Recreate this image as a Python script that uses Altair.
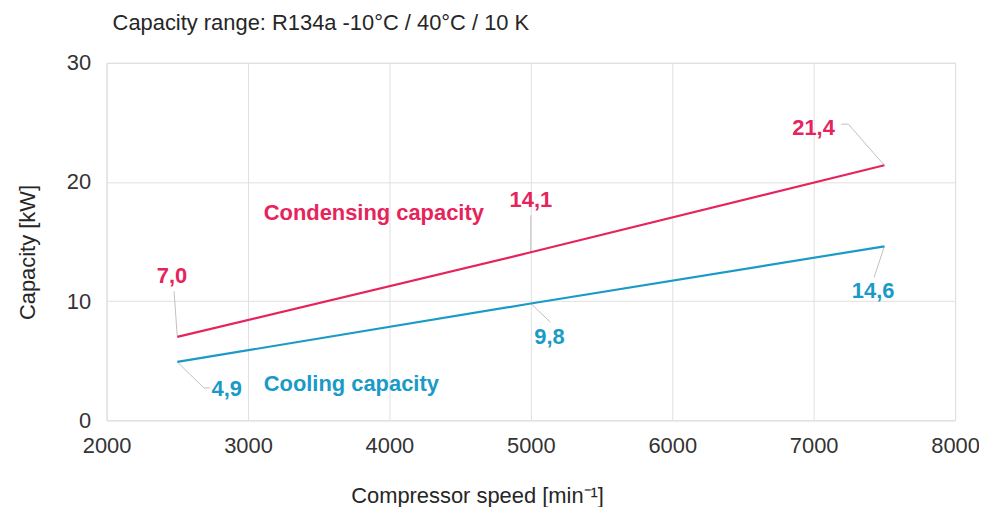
import altair as alt
import pandas as pd

# ---- data ----
speeds = [2500, 5000, 7500]
condensing = [7.0, 14.1, 21.4]
cooling = [4.9, 9.8, 14.6]
series_names = ["Condensing capacity", "Cooling capacity"]
colors = ["#E6245C", "#1A9AC6"]
x_ticks = [2000, 3000, 4000, 5000, 6000, 7000, 8000]
y_ticks = [0, 10, 20, 30]

# ---- annotation placement (data units), kept apart from the values ----
# label centre for each point (condensing first, then cooling)
cond_label_pos = [(2463, 12.07), (5000, 18.5), (6999, 24.5)]
cool_label_pos = [(2850, 2.63), (5132, 6.98), (7420, 10.82)]
# leader bend points from each point toward its label
cond_leader = [[(2477, 10.82)], [(5000, 17.2)], [(7245, 24.85), (7195, 24.85)]]
cool_leader = [[(2688, 2.72), (2730, 2.72)], [(5139, 8.23)], [(7427, 11.99)]]
# series name anchors (left, baseline)
name_pos = [(3111, 16.83), (3111, 2.47)]

FONT = "Liberation Sans"
FS = 22

rows = []
for s, vals in zip(series_names, [condensing, cooling]):
    for x, v in zip(speeds, vals):
        rows.append({"series": s, "speed": x, "cap": v})
lines_df = pd.DataFrame(rows)

lab_rows = []
lead_rows = []
for s, vals, lpos, lead in zip(series_names, [condensing, cooling],
                               [cond_label_pos, cool_label_pos],
                               [cond_leader, cool_leader]):
    for i, (x, v) in enumerate(zip(speeds, vals)):
        lab_rows.append({"series": s, "lx": lpos[i][0], "ly": lpos[i][1],
                         "txt": f"{v:.1f}".replace(".", ",")})
        pid = f"{s}-{i}"
        lead_rows.append({"id": pid, "o": 0, "x": x, "y": v})
        for k, (bx, by) in enumerate(lead[i]):
            lead_rows.append({"id": pid, "o": k + 1, "x": bx, "y": by})
labels_df = pd.DataFrame(lab_rows)
lead_df = pd.DataFrame(lead_rows)
names_df = pd.DataFrame({"series": series_names,
                         "nx": [p[0] for p in name_pos],
                         "ny": [p[1] for p in name_pos]})

xs = alt.Scale(domain=[2000, 8000], nice=False)
ys = alt.Scale(domain=[0, 30], nice=False)
cs = alt.Scale(domain=series_names, range=colors)

x_axis = alt.Axis(values=x_ticks, format="d", labelFlush=False,
                  title="Compressor speed [min⁻¹]",
                  labelPadding=15, titleX=372, titleY=83,
                  titleBaseline="alphabetic", titleAnchor="middle")
y_axis = alt.Axis(values=y_ticks, format="d", labelFlush=False,
                  title="Capacity [kW]", labelPadding=16,
                  titleX=-72, titleY=190, titleAngle=270,
                  titleBaseline="alphabetic", titleAnchor="middle")

leaders = alt.Chart(lead_df).mark_line(color="#BFBFBF", strokeWidth=1).encode(
    x=alt.X("x:Q", scale=xs, axis=x_axis),
    y=alt.Y("y:Q", scale=ys, axis=y_axis),
    detail="id:N",
    order="o:Q",
)

lines = alt.Chart(lines_df).mark_line(strokeWidth=2.2).encode(
    x=alt.X("speed:Q", scale=xs),
    y=alt.Y("cap:Q", scale=ys),
    color=alt.Color("series:N", scale=cs, legend=None),
)

value_labels = alt.Chart(labels_df).mark_text(
    font=FONT, fontSize=FS, fontWeight="bold", align="center", baseline="middle"
).encode(
    x=alt.X("lx:Q", scale=xs),
    y=alt.Y("ly:Q", scale=ys),
    text="txt:N",
    color=alt.Color("series:N", scale=cs, legend=None),
)

name_labels = alt.Chart(names_df).mark_text(
    font=FONT, fontSize=FS, fontWeight="bold", align="left", baseline="alphabetic"
).encode(
    x=alt.X("nx:Q", scale=xs),
    y=alt.Y("ny:Q", scale=ys),
    text="series:N",
    color=alt.Color("series:N", scale=cs, legend=None),
)

chart = alt.layer(leaders, lines, value_labels, name_labels).properties(
    width=852,
    height=359,
    autosize=alt.AutoSizeParams(type="none"),
    padding={"left": 99, "top": 54, "right": 24, "bottom": 86},
    title=alt.TitleParams(
        "Capacity range: R134a -10°C / 40°C / 10 K",
        anchor="start", frame="group", dx=6, dy=25, offset=25,
        baseline="alphabetic", font=FONT, fontSize=FS, fontWeight="normal",
        color="#262626",
    ),
).configure_view(
    stroke="#D9D9D9", strokeWidth=1
).configure_axis(
    grid=True, gridColor="#E0E0E0", gridWidth=1, domain=False, ticks=False,
    labelFont=FONT, labelFontSize=FS, labelColor="#333333",
    titleFont=FONT, titleFontSize=FS, titleFontWeight="normal", titleColor="#262626",
)

chart.save("out.html", embed_options={"renderer": "svg", "actions": False})
